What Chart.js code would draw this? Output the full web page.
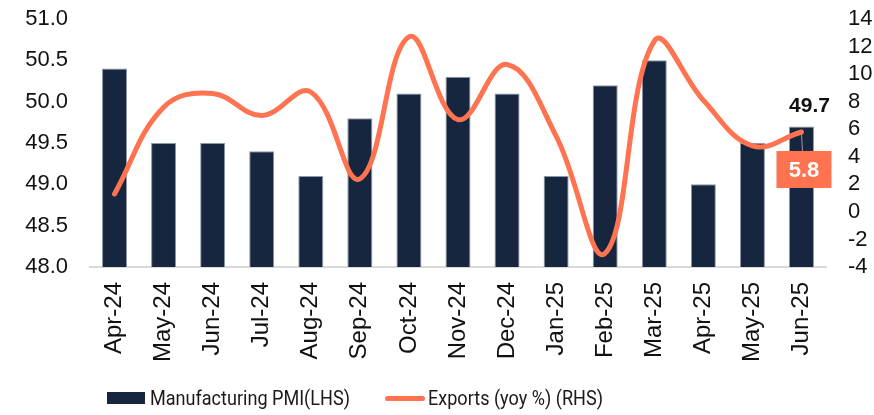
<!DOCTYPE html>
<html>
<head>
<meta charset="utf-8">
<script src="https://cdn.jsdelivr.net/npm/chart.js@4.4.1/dist/chart.umd.min.js"></script>
<style>
  html, body { margin: 0; padding: 0; background: #fff; }
  #wrap { position: relative; width: 874px; height: 415px; }
  .item { position: absolute; top: 386px; display: flex; align-items: center; height: 24px;
          font-family: "Roboto", sans-serif; font-size: 21px; color: #1a1a1a; white-space: nowrap; }
  .item .txt { display: inline-block; transform: scaleX(0.86); transform-origin: left center; }
  .sw-bar { width: 38px; height: 12px; background: #16263F; margin-right: 5px; }
  .sw-line { width: 40px; height: 5px; border-radius: 3px; background: #FF7350; margin-right: 3px; }
</style>
</head>
<body>
<div id="wrap">
  <canvas id="chart" width="874" height="415"></canvas>
  <div class="item" style="left:107px"><span class="sw-bar"></span><span class="txt">Manufacturing PMI(LHS)</span></div>
  <div class="item" style="left:385px"><span class="sw-line"></span><span class="txt">Exports (yoy %) (RHS)</span></div>
</div>
<script>
const months = ['Apr-24', 'May-24', 'Jun-24', 'Jul-24', 'Aug-24', 'Sep-24', 'Oct-24', 'Nov-24',
                'Dec-24', 'Jan-25', 'Feb-25', 'Mar-25', 'Apr-25', 'May-25', 'Jun-25'];
const pmi = [50.4, 49.5, 49.5, 49.4, 49.1, 49.8, 50.1, 50.3, 50.1, 49.1, 50.2, 50.5, 49.0, 49.5, 49.7];
const exportsYoy = [1.3, 7.6, 8.6, 7.0, 8.7, 2.4, 12.7, 6.7, 10.7, 5.5, -3.0, 12.4, 8.1, 4.8, 5.8];

const navy = '#16263F';
const coral = '#FF7350';
const tickFont = { family: '"Liberation Sans", Arial, sans-serif', size: 22 };

// etiquetas del último dato (PMI y exportaciones)
const lastLabels = {
    id: 'lastLabels',
    afterDatasetsDraw(chart) {
        const ctx = chart.ctx;
        const i = months.length - 1;
        const x = chart.scales.x.getPixelForValue(i);
        const yBar = chart.scales.y.getPixelForValue(pmi[i]);
        const yLine = chart.scales.y2.getPixelForValue(exportsYoy[i]);
        ctx.save();
        ctx.font = 'bold 21px "Liberation Sans", Arial, sans-serif';
        ctx.fillStyle = '#111';
        ctx.textAlign = 'center';
        ctx.textBaseline = 'bottom';
        ctx.fillText(pmi[i].toFixed(1), x + 8, yBar - 10);

        // línea guía hacia la caja
        ctx.strokeStyle = '#9a9a9a';
        ctx.lineWidth = 1;
        ctx.beginPath();
        ctx.moveTo(x, yLine);
        ctx.lineTo(x + 1, yLine + 19);
        ctx.stroke();

        const bw = 55, bh = 37;
        const bx = x + 2.5 - bw / 2, by = yLine + 19;
        ctx.fillStyle = coral;
        ctx.fillRect(bx, by, bw, bh);
        ctx.fillStyle = '#fff';
        ctx.font = 'bold 22px "Liberation Sans", Arial, sans-serif';
        ctx.textBaseline = 'middle';
        ctx.fillText(exportsYoy[i].toFixed(1), bx + bw / 2, by + bh / 2 + 1);
        ctx.restore();
    }
};

new Chart(document.getElementById('chart'), {
    data: {
        labels: months,
        datasets: [
            {
                type: 'line',
                label: 'Exports (yoy %) (RHS)',
                data: exportsYoy,
                yAxisID: 'y2',
                borderColor: coral,
                borderWidth: 5,
                tension: 0.4,
                pointRadius: 0,
                borderCapStyle: 'round',
                order: 0
            },
            {
                type: 'bar',
                label: 'Manufacturing PMI(LHS)',
                data: pmi,
                yAxisID: 'y',
                backgroundColor: navy,
                borderColor: '#8e98aa',
                borderWidth: 1,
                categoryPercentage: 1,
                barPercentage: 0.51,
                base: 48,
                order: 1
            }
        ]
    },
    options: {
        responsive: false,
        animation: false,
        layout: { padding: { top: 19, bottom: 40, left: 0, right: 0 } },
        plugins: {
            legend: { display: false },
            tooltip: { enabled: false }
        },
        scales: {
            x: {
                offset: true,
                grid: { display: false, drawTicks: false },
                border: { display: true, color: '#d9d9d9', width: 2 },
                ticks: { color: '#111', font: { family: tickFont.family, size: 24 },
                         minRotation: 90, maxRotation: 90, padding: 15, autoSkip: false },
                afterFit: (s) => { s.height = 108; }
            },
            y: {
                position: 'left',
                min: 48,
                max: 51,
                grid: { display: false, drawTicks: false },
                border: { display: false },
                ticks: {
                    stepSize: 0.5,
                    color: '#111',
                    font: tickFont,
                    padding: 22,
                    autoSkip: false,
                    callback: (v) => Number(v).toFixed(1)
                },
                afterFit: (s) => { s.width = 90; s.paddingTop = 0; s.paddingBottom = 0; }
            },
            y2: {
                position: 'right',
                min: -4,
                max: 14,
                grid: { display: false, drawTicks: false },
                border: { display: false },
                ticks: { stepSize: 2, color: '#111', font: tickFont, padding: 22, autoSkip: false },
                afterFit: (s) => { s.width = 48; s.paddingTop = 0; s.paddingBottom = 0; }
            }
        }
    },
    plugins: [lastLabels]
});
</script>
</body>
</html>
